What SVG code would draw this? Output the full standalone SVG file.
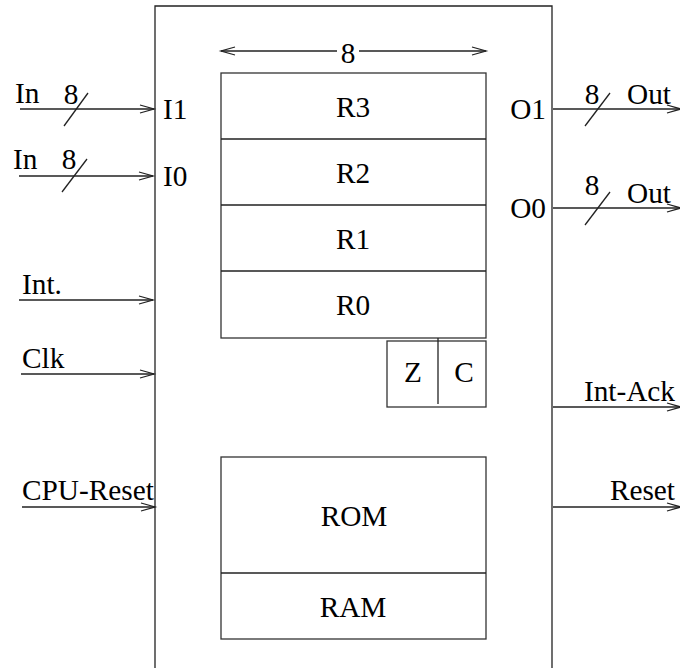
<svg xmlns="http://www.w3.org/2000/svg" width="680" height="668" viewBox="0 0 680 668">
<style>
.ln{fill:none;stroke:#222;stroke-width:1.3}
.bx{fill:#fff;stroke:#333;stroke-width:1.3}
text{font-family:'Liberation Serif','Times New Roman','DejaVu Serif',serif;font-size:29.3px;fill:#000}
.m{text-anchor:middle}
.e{text-anchor:end}
.ar{marker-end:url(#ah)}
</style>
<defs>
<marker id="ah" markerUnits="userSpaceOnUse" markerWidth="16" markerHeight="12" refX="14" refY="6" orient="auto-start-reverse" overflow="visible">
<path d="M0,2 L14,6 L0,10" fill="none" stroke="#222" stroke-width="1.3"/>
</marker>
</defs>
<rect width="680" height="668" fill="#fff"/>

<g id="cpu">
<path class="ln" d="M155,668 V6 H552 V668"/>
</g>

<g id="registers">
<rect class="bx" x="221" y="73" width="265" height="265"/>
<path class="ln" d="M221,139 H486 M221,205 H486 M221,271 H486"/>
<text class="m" x="353" y="117">R3</text>
<text class="m" x="353" y="183">R2</text>
<text class="m" x="353" y="249">R1</text>
<text class="m" x="353" y="315">R0</text>
</g>

<g id="flags">
<rect class="bx" x="387" y="341" width="99" height="66"/>
<path class="ln" d="M438,338 V404"/>
<text class="m" x="413" y="382">Z</text>
<text class="m" x="464" y="382">C</text>
</g>

<g id="memory">
<rect class="bx" x="221" y="457" width="265" height="182"/>
<path class="ln" d="M221,573 H486"/>
<text class="m" x="354" y="526">ROM</text>
<text class="m" x="353" y="617">RAM</text>
</g>

<g id="ports">
<text x="163" y="119">I1</text>
<text x="163" y="186">I0</text>
<text class="e" x="546" y="119">O1</text>
<text class="e" x="546" y="218">O0</text>
</g>

<g id="width-label">
<text class="m" x="348" y="63">8</text>
</g>

<g id="connectors">
<path class="ln" d="M337,51 H221" marker-end="url(#ah)"/>
<path class="ln" d="M359,51 H486" marker-end="url(#ah)"/>

<path class="ln ar" d="M20,109 H154"/>
<path class="ln" d="M64,126 L88,93"/>
<path class="ln ar" d="M19,176 H153"/>
<path class="ln" d="M62,192 L87,159"/>

<path class="ln ar" d="M19,300 H153"/>
<path class="ln ar" d="M21,374 H154"/>
<path class="ln ar" d="M22,507 H155"/>

<path class="ln ar" d="M553,109 H681"/>
<path class="ln" d="M585,126 L610,93"/>
<path class="ln ar" d="M553,208 H681"/>
<path class="ln" d="M585,225 L610,192"/>

<path class="ln ar" d="M553,407 H681"/>
<path class="ln ar" d="M553,507 H681"/>
</g>

<g id="signal-labels">
<text x="15" y="103">In</text>
<text class="m" x="71" y="104">8</text>
<text x="13" y="169">In</text>
<text class="m" x="69" y="169">8</text>
<text x="22" y="294">Int.</text>
<text x="22" y="368">Clk</text>
<text x="22" y="500">CPU-Reset</text>
<text class="m" x="592" y="104">8</text>
<text x="627" y="104">Out</text>
<text class="m" x="592" y="195">8</text>
<text x="627" y="203">Out</text>
<text class="e" x="675" y="401">Int-Ack</text>
<text class="e" x="675" y="500">Reset</text>
</g>
</svg>
